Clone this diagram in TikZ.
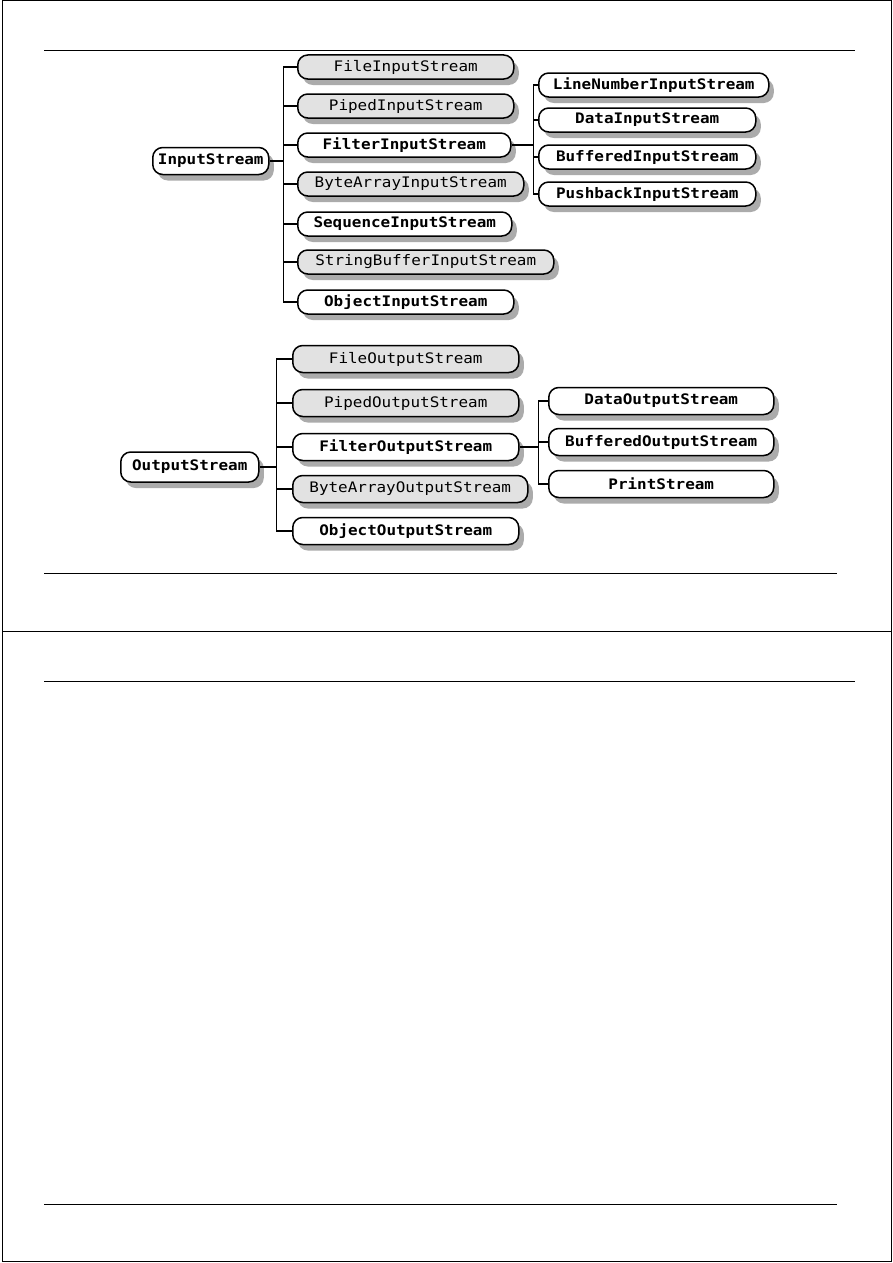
\documentclass[tikz,border=0pt]{standalone}
\usepackage{fontspec}
\newfontfamily\streamfont[FakeStretch=1.1]{DejaVu Sans Mono}
\usetikzlibrary{shadows}
\definecolor{boxgrey}{HTML}{E2E2E2}
\definecolor{shadowgrey}{HTML}{ABABAB}
\tikzset{
  stream/.style={draw, line width=1.5pt, rounded corners=10pt, minimum height=24pt,
    anchor=west, inner sep=2pt, font=\streamfont\fontsize{14.5}{14.5}\selectfont,
    drop shadow={shadow xshift=5pt, shadow yshift=-6pt, fill=shadowgrey, opacity=1}},
  greystream/.style={stream, fill=boxgrey},
  whitestream/.style={stream, fill=white, font=\streamfont\bfseries\fontsize{14.5}{14.5}\selectfont},
  branch/.style={line width=1.8pt},
  rule/.style={line width=1pt},
}

\begin{document}
\begin{tikzpicture}[x=1pt,y=-1pt]
\useasboundingbox (0,0) rectangle (893,1263);
% page frame and rules
\draw[rule] (2,1) rectangle (891,1261);
\draw[rule] (2,631) -- (891,631);
\draw[rule] (44,51) -- (855,51);
\draw[rule] (44,573) -- (837,573);
\draw[rule] (44,681) -- (855,681);
\draw[rule] (44,1204) -- (837,1204);

% input side
\node[whitestream,minimum width=116pt,minimum height=27pt] (InputStream) at (152,161) {InputStream};
\node[greystream,minimum width=216pt] (FileInputStream) at (297,67) {FileInputStream};
\node[greystream,minimum width=216pt] (PipedInputStream) at (297,106) {PipedInputStream};
\node[whitestream,minimum width=213pt] (FilterInputStream) at (297,145) {FilterInputStream};
\node[greystream,minimum width=226pt] (ByteArrayInputStream) at (297,184) {ByteArrayInputStream};
\node[whitestream,minimum width=214pt] (SequenceInputStream) at (297,224) {SequenceInputStream};
\node[greystream,minimum width=256pt] (StringBufferInputStream) at (297,262) {StringBufferInputStream};
\node[whitestream,minimum width=216pt] (ObjectInputStream) at (297,302) {ObjectInputStream};
\node[whitestream,minimum width=230pt] (LineNumberInputStream) at (538,85) {LineNumberInputStream};
\node[whitestream,minimum width=217pt] (DataInputStream) at (538,120) {DataInputStream};
\node[whitestream,minimum width=217pt] (BufferedInputStream) at (538,157) {BufferedInputStream};
\node[whitestream,minimum width=217pt] (PushbackInputStream) at (538,194) {PushbackInputStream};

\draw[branch] (InputStream.east) -- ++(14,0) coordinate (itrunk);
\foreach \n in {FileInputStream,PipedInputStream,FilterInputStream,ByteArrayInputStream,
  SequenceInputStream,StringBufferInputStream,ObjectInputStream}
  \draw[branch] (itrunk) |- (\n.west);
\draw[branch] (FilterInputStream.east) -- ++(22,0) coordinate (ftrunk);
\foreach \n in {LineNumberInputStream,DataInputStream,BufferedInputStream,PushbackInputStream}
  \draw[branch] (ftrunk) |- (\n.west);

% output side
\node[whitestream,minimum width=138pt,minimum height=30pt] (OutputStream) at (120,467) {OutputStream};
\node[greystream,minimum width=226pt,minimum height=27pt] (FileOutputStream) at (292,359) {FileOutputStream};
\node[greystream,minimum width=226pt,minimum height=27pt] (PipedOutputStream) at (292,403) {PipedOutputStream};
\node[whitestream,minimum width=226pt,minimum height=27pt] (FilterOutputStream) at (292,447) {FilterOutputStream};
\node[greystream,minimum width=235pt,minimum height=27pt] (ByteArrayOutputStream) at (292,489) {ByteArrayOutputStream};
\node[whitestream,minimum width=226pt,minimum height=27pt] (ObjectOutputStream) at (292,531) {ObjectOutputStream};
\node[whitestream,minimum width=225pt,minimum height=27pt] (DataOutputStream) at (548,401) {DataOutputStream};
\node[whitestream,minimum width=225pt,minimum height=27pt] (BufferedOutputStream) at (548,442) {BufferedOutputStream};
\node[whitestream,minimum width=225pt,minimum height=27pt] (PrintStream) at (548,484) {PrintStream};

\draw[branch] (OutputStream.east) -- ++(17,0) coordinate (otrunk);
\foreach \n in {FileOutputStream,PipedOutputStream,FilterOutputStream,ByteArrayOutputStream,ObjectOutputStream}
  \draw[branch] (otrunk) |- (\n.west);
\draw[branch] (FilterOutputStream.east) -- ++(19,0) coordinate (gtrunk);
\foreach \n in {DataOutputStream,BufferedOutputStream,PrintStream}
  \draw[branch] (gtrunk) |- (\n.west);
\end{tikzpicture}
\end{document}
